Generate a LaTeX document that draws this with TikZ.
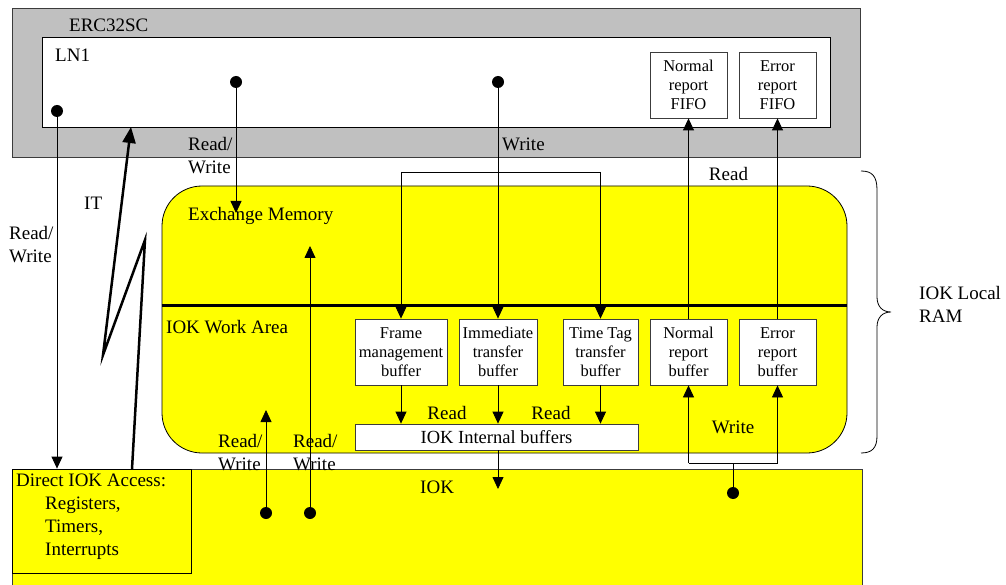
\documentclass[tikz,border=0pt]{standalone}
\usepackage{fontspec}
\setmainfont{Liberation Serif}
\usetikzlibrary{arrows.meta}
\definecolor{grayfill}{RGB}{192,192,192}
\definecolor{yel}{RGB}{255,255,0}
\definecolor{edge}{RGB}{60,60,60}
\begin{document}
\begin{tikzpicture}[x=1pt,y=-1pt,
  big/.style={font=\fontsize{19}{23}\selectfont},
  small/.style={font=\fontsize{16.5}{19}\selectfont},
  lbl/.style={big, inner sep=0pt, align=left},
  box/.style={draw=edge, line width=0.8pt, inner sep=0pt},
  buf/.style={box, fill=white, small, align=center},
  conn/.style={line width=0.8pt, -{Triangle[length=12pt,width=11pt]}},
  plain/.style={line width=0.8pt},
  dotn/.style={circle, fill=black, inner sep=0pt, minimum size=12pt},
]
\useasboundingbox (0,0) rectangle (1006,585);

% ERC32SC
\node[box, fill=grayfill, minimum width=848pt, minimum height=149pt] (erc) at (436,82.5) {};
\node[box, draw=black, fill=white, minimum width=788pt, minimum height=90pt] (ln1) at (436,82) {};
\node[buf, minimum width=77pt, minimum height=66pt] (nfifo) at (688.5,85) {Normal\\report\\FIFO};
\node[buf, minimum width=77pt, minimum height=66pt] (efifo) at (777.5,85) {Error\\report\\FIFO};

% IOK local RAM
\node[draw=black, line width=0.8pt, fill=yel, rounded corners=40pt, minimum width=685pt, minimum height=267pt, inner sep=0pt] (ram) at (504.5,319.5) {};
\draw[line width=3pt] (ram.west |- 0,305) coordinate (sepL) -- (ram.east |- 0,305) coordinate (sepR);

% IOK
\node[box, fill=yel, minimum width=850pt, minimum height=151pt] (iok) at (437,544.5) {};
\node[box, draw=black, fill=yel, minimum width=179pt, minimum height=104pt] (dia) at (101.5,521) {};

% buffers
\node[buf, minimum width=92pt, minimum height=66pt] (fmb) at (401,352) {Frame\\management\\buffer};
\node[buf, minimum width=78pt, minimum height=66pt] (itb) at (498,352) {Immediate\\transfer\\buffer};
\node[buf, minimum width=75pt, minimum height=66pt] (ttb) at (600.5,352) {Time Tag\\transfer\\buffer};
\node[buf, minimum width=77pt, minimum height=66pt] (nrb) at (688.5,352) {Normal\\report\\buffer};
\node[buf, minimum width=77pt, minimum height=66pt] (erb) at (777.5,352) {Error\\report\\buffer};
\node[box, fill=white, minimum width=283pt, minimum height=26pt, font=\fontsize{18.5}{22}\selectfont] (iib) at (496.5,437) {IOK Internal buffers};

% dots
\node[dotn] (d1) at (57,111) {};
\node[dotn] (d2) at (236,82) {};
\node[dotn] (d3) at (498,82) {};
\node[dotn] (d4) at (733,493) {};
\node[dotn] (d5) at (266,513) {};
\node[dotn] (d6) at (310,513) {};

% connector coordinates
\coordinate (emt) at (236,213);
\coordinate (j3) at (498,172);
\coordinate (j4) at (733,463);
\coordinate (iokt) at (498,489);
\coordinate (t5) at (266,410);
\coordinate (t6) at (310,246);
\coordinate (itA) at (132,469);
\coordinate (itB) at (145,240);
\coordinate (itC) at (103,355);
\coordinate (itD) at (131,127);

% connectors
\draw[conn] (d1) -- (d1 |- dia.north);
\draw[conn] (d2) -- (emt);
\draw[plain] (d3) -- (j3);
\draw[plain] (fmb.north |- j3) -- (ttb.north |- j3);
\draw[conn] (fmb.north |- j3) -- (fmb.north);
\draw[conn] (j3) -- (itb.north);
\draw[conn] (ttb.north |- j3) -- (ttb.north);
\draw[conn] (nrb.north) -- (nfifo.south);
\draw[conn] (erb.north) -- (efifo.south);
\draw[conn] (fmb.south) -- (fmb.south |- iib.north);
\draw[conn] (itb.south) -- (itb.south |- iib.north);
\draw[conn] (ttb.south) -- (ttb.south |- iib.north);
\draw[conn] (iib.south -| itb.south) -- (iokt);
\draw[plain] (d4) -- (j4);
\draw[plain] (nrb.south |- j4) -- (erb.south |- j4);
\draw[conn] (nrb.south |- j4) -- (nrb.south);
\draw[conn] (erb.south |- j4) -- (erb.south);
\draw[conn] (d5) -- (t5);
\draw[conn] (d6) -- (t6);
\draw[line width=2.5pt, -{Triangle[length=16pt,width=13pt]}] (itA) -- (itB) -- (itC) -- (itD);

% brace
\draw[line width=0.8pt] (861,171) .. controls (872,171) and (877,176) .. (877,190) -- (877,297)
  .. controls (877,306) and (882,312) .. (891,312)
  .. controls (882,312) and (877,318) .. (877,327) -- (877,436)
  .. controls (877,448) and (872,453) .. (861,453);

% labels
\node[lbl, anchor=base west] (lerc) at (69,32) {ERC32SC};
\node[lbl, anchor=base west] (lln1) at (55,62) {LN1};
\node[lbl, anchor=west] (lrw1) at (188,156) {Read/\\Write};
\node[lbl, anchor=base west] (lw1) at (502,151) {Write};
\node[lbl, anchor=base] (lr1) at (728.5,181) {Read};
\node[lbl, anchor=base west] (lit) at (84,210) {IT};
\node[lbl, anchor=west] (lrw2) at (9,245) {Read/\\Write};
\node[lbl, anchor=base west] (lem) at (188,221) {Exchange Memory};
\node[lbl, anchor=base west] (lwa) at (166,333) {IOK Work Area};
\node[lbl, anchor=base] (lr2) at (447,419) {Read};
\node[lbl, anchor=base] (lr3) at (551,419) {Read};
\node[lbl, anchor=base] (lw2) at (733,433) {Write};
\node[lbl, anchor=west] (lrw3) at (218,453) {Read/\\Write};
\node[lbl, anchor=west] (lrw4) at (293,453) {Read/\\Write};
\node[lbl, anchor=base west] (liok) at (420,493) {IOK};
\node[lbl, anchor=west] (ldia) at (16,517) {Direct IOK Access:\\\hspace*{29pt}Registers,\\\hspace*{29pt}Timers,\\\hspace*{29pt}Interrupts};
\node[lbl, anchor=west] (lram) at (919,304) {IOK Local\\RAM};
\end{tikzpicture}
\end{document}
